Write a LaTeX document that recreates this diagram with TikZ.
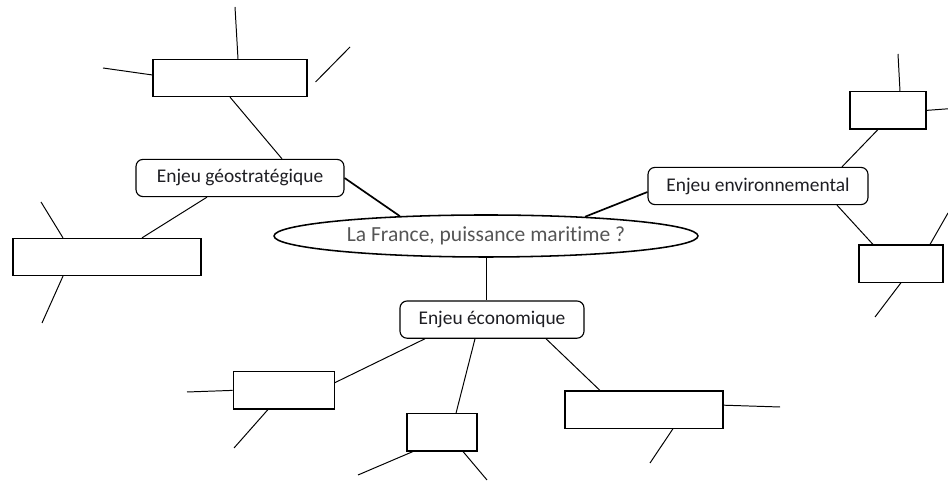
\documentclass[tikz,border=0pt]{standalone}
\usepackage{fontspec}
\setmainfont{Carlito}[Ligatures=NoCommon]
\usepackage{xcolor}
\usepackage{tikz}
\definecolor{questiongray}{RGB}{85, 85, 85}
\definecolor{labelblack}{RGB}{30, 30, 35}
\usetikzlibrary{shapes,positioning,calc}

\begin{document}
\begin{tikzpicture}[
    question/.style={ellipse, draw, line width=1.1pt, minimum width=10.6cm, minimum height=1.05cm, inner sep=0pt, text=questiongray, font=\fontsize{15.3}{18}\selectfont},
    stake/.style={rectangle, rounded corners=5pt, draw, line width=0.8pt, minimum height=0.93cm, inner sep=0pt, text=labelblack, font=\fontsize{13.8}{16}\selectfont},
    blank/.style={rectangle, draw, line width=0.75pt, minimum height=0.93cm, inner sep=0pt},
    branch/.style={line width=0.7pt},
    mainbranch/.style={line width=1.2pt}
]
    \useasboundingbox (0,0) rectangle (23.7,12.05);

    % Central question
    \node[question] (fr) at (12.15,6.15) {La France, puissance maritime ?};

    % Stakes
    \node[stake, minimum width=5.2cm] (geo) at (6.0,7.6) {Enjeu géostratégique};
    \node[stake, minimum width=5.5cm] (env) at (18.95,7.4) {Enjeu environnemental};
    \node[stake, minimum width=4.6cm] (eco) at (12.3,4.06) {Enjeu économique};

    \draw[mainbranch] (geo.east) -- (fr.167);
    \draw[mainbranch] ([yshift=-0.15cm]env.west) -- (fr.11);
    \draw[branch] (fr.south) -- (fr.south |- eco.north);

    % Empty boxes
    \node[blank, minimum width=3.85cm] (geoa) at (5.75,10.1) {};
    \node[blank, minimum width=4.7cm] (geob) at (2.675,5.625) {};
    \node[blank, minimum width=1.9cm] (enva) at (22.2,9.29) {};
    \node[blank, minimum width=2.1cm] (envb) at (22.525,5.46) {};
    \node[blank, minimum width=2.525cm] (ecoa) at (7.09,2.29) {};
    \node[blank, minimum width=1.75cm] (ecob) at (11.05,1.24) {};
    \node[blank, minimum width=3.95cm] (ecoc) at (16.1,1.81) {};

    \draw[branch] (geoa.south) -- ([xshift=1.05cm]geo.north);
    \draw[branch] ([xshift=-0.825cm]geo.south) -- ([xshift=0.875cm]geob.north);
    \draw[branch] ([xshift=2.1cm]env.north) -- ([xshift=-0.25cm]enva.south);
    \draw[branch] ([xshift=1.975cm]env.south) -- ([xshift=-0.7cm]envb.north);
    \draw[branch] ([xshift=-1.675cm]eco.south) -- ([yshift=0.19cm]ecoa.east);
    \draw[branch] ([xshift=-0.425cm]eco.south) -- ([xshift=0.35cm]ecob.north);
    \draw[branch] ([xshift=1.35cm]eco.south) -- ([xshift=-1.1cm]ecoc.north);

    % Free strokes
    \coordinate (geoa1) at (5.875,11.875);
    \coordinate (geoa2) at (2.575,10.35);
    \coordinate (geoa3) at (8.75,10.875);
    \coordinate (geob1) at (1.025,7.0);
    \coordinate (geob2) at (1.05,3.975);
    \coordinate (enva1) at (22.45,10.7);
    \coordinate (enva2) at (23.7,9.33);
    \coordinate (envb1) at (23.7,6.725);
    \coordinate (envb2) at (21.875,4.125);
    \coordinate (ecoa1) at (4.675,2.25);
    \coordinate (ecoa2) at (5.85,0.85);
    \coordinate (ecob1) at (8.95,0.175);
    \coordinate (ecob2) at (12.175,0.05);
    \coordinate (ecoc1) at (19.5,1.875);
    \coordinate (ecoc2) at (16.25,0.475);

    \draw[branch] ([xshift=0.2cm]geoa.north) -- (geoa1);
    \draw[branch] ([yshift=0.075cm]geoa.west) -- (geoa2);
    \draw[branch] ([shift={(0.2,-0.1)}]geoa.east) -- (geoa3);
    \draw[branch] ([xshift=-1.1cm]geob.north) -- (geob1);
    \draw[branch] ([xshift=-1.1cm]geob.south) -- (geob2);
    \draw[branch] ([xshift=0.3cm]enva.north) -- (enva1);
    \draw[branch] (enva.east) -- (enva2);
    \draw[branch] ([xshift=0.725cm]envb.north) -- (envb1);
    \draw[branch] (envb.south) -- (envb2);
    \draw[branch] (ecoa.west) -- (ecoa1);
    \draw[branch] ([xshift=-0.39cm]ecoa.south) -- (ecoa2);
    \draw[branch] ([xshift=-0.725cm]ecob.south) -- (ecob1);
    \draw[branch] ([xshift=0.525cm]ecob.south) -- (ecob2);
    \draw[branch] ([yshift=0.11cm]ecoc.east) -- (ecoc1);
    \draw[branch] ([xshift=0.725cm]ecoc.south) -- (ecoc2);
\end{tikzpicture}
\end{document}
